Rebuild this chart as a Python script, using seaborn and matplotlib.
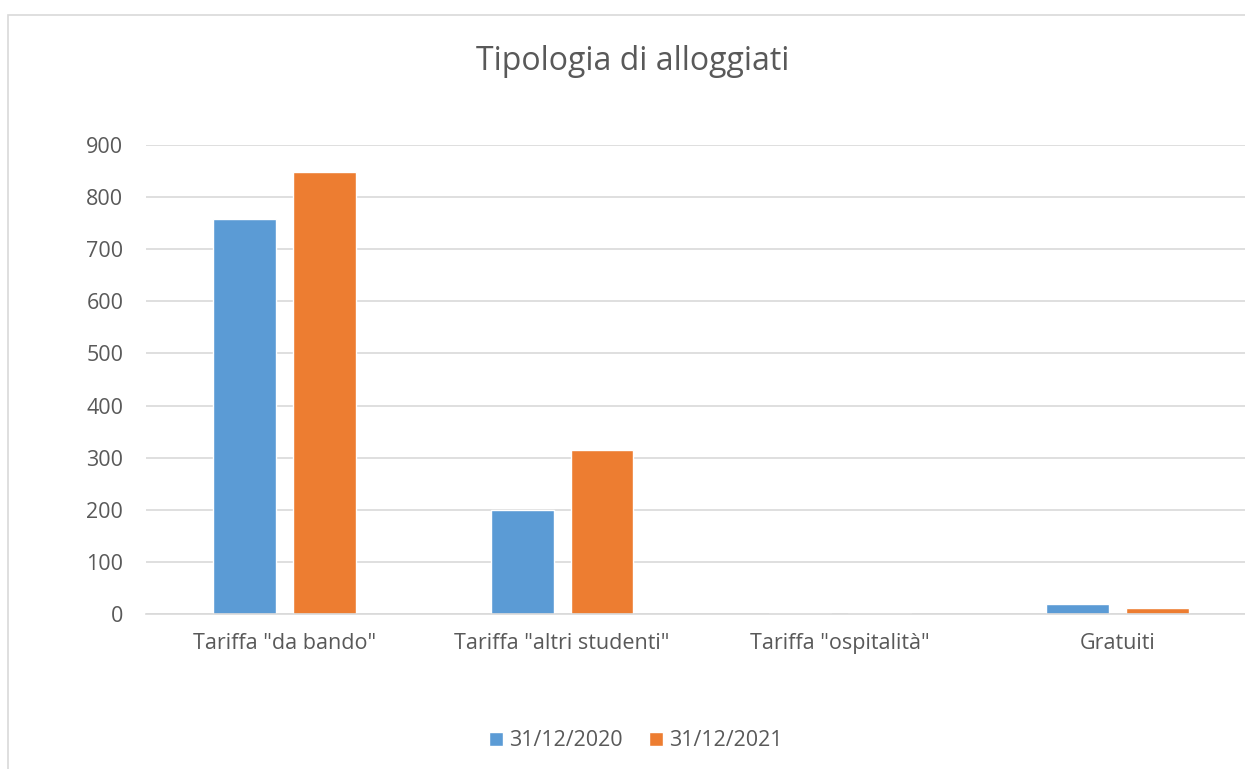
import pandas as pd
import matplotlib.pyplot as plt
import seaborn as sns
from matplotlib.patches import Rectangle

# Values
categories = ['Tariffa "da bando"', 'Tariffa "altri studenti"',
              'Tariffa "ospitalità"', 'Gratuiti']
dates = ['31/12/2020', '31/12/2021']
values_2020 = [758, 200, 1, 19]
values_2021 = [848, 315, 2, 12]

df = pd.DataFrame({
    'categoria': categories * 2,
    'data': [dates[0]] * 4 + [dates[1]] * 4,
    'valore': values_2020 + values_2021,
})

sns.set_theme(style='white')
plt.rcParams['font.family'] = ['Open Sans', 'DejaVu Sans']
text_col = '#595959'

fig = plt.figure(figsize=(12.45, 7.69), dpi=100)
# outer chart border (cropped on right/bottom like the reference)
fig.patches.append(Rectangle((8 / 1245, -0.1), 1.2, 1 - 15 / 769 + 0.1,
                             transform=fig.transFigure, fill=False,
                             edgecolor='#D9D9D9', lw=1.2))
# plot area runs a little past the right edge of the image
ax = fig.add_axes([145.5 / 1245, 1 - 614 / 769, 1111 / 1245, 469 / 769])

sns.barplot(data=df, x='categoria', y='valore', hue='data',
            palette=['#5B9BD5', '#ED7D31'], width=0.574, gap=0.215,
            saturation=1, ax=ax, legend=True)

ax.set_xlim(-0.5, 3.5)
ax.set_ylim(0, 900)
ax.set_yticks(range(0, 901, 100))
ax.yaxis.grid(True, color='#D9D9D9', lw=1.2)
ax.set_axisbelow(True)
for s in ['top', 'right', 'left']:
    ax.spines[s].set_visible(False)
ax.spines['bottom'].set_color('#D9D9D9')
ax.spines['bottom'].set_linewidth(1.2)
ax.set_xlabel('')
ax.set_ylabel('')
ax.tick_params(axis='both', length=0, labelsize=15.5, colors=text_col)
ax.tick_params(axis='x', pad=14)
ax.tick_params(axis='y', pad=16)

fig.text(633 / 1245, 1 - 62 / 769, 'Tipologia di alloggiati', ha='center',
         va='center', fontsize=23, color=text_col)

leg = ax.legend(loc='center', bbox_to_anchor=(636 / 1245, 1 - 741 / 769),
                bbox_transform=fig.transFigure, ncol=2, frameon=False,
                fontsize=15.5, handlelength=0.65, handleheight=0.65,
                handletextpad=0.3, columnspacing=1.2)
for t in leg.get_texts():
    t.set_color(text_col)

fig.savefig('out.png', dpi=100)
